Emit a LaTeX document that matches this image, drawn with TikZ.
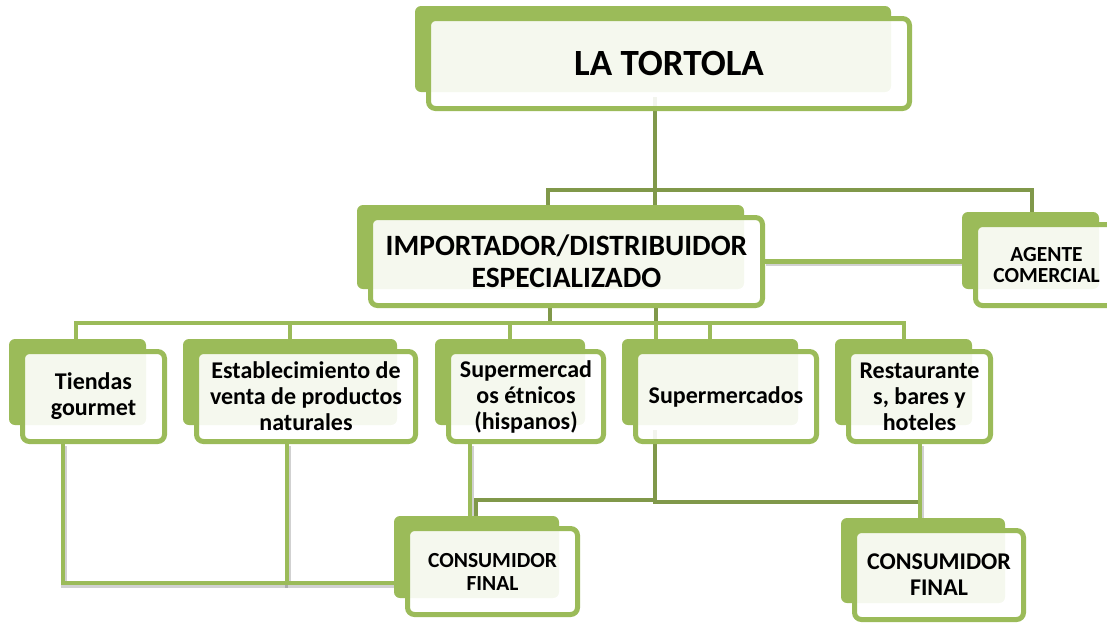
\documentclass[tikz,border=0pt]{standalone}
\usepackage{fontspec}
\setmainfont{Carlito}

\definecolor{olive}{HTML}{9BBB59}
\definecolor{olivedark}{HTML}{80984A}

\pgfdeclarelayer{lines}
\pgfdeclarelayer{back}
\pgfsetlayers{lines,back,main}

\tikzset{
  card/.style={draw=olive, line width=5pt, rounded corners=7pt, fill=white,
    fill opacity=0.9, text opacity=1, inner sep=0pt, align=center},
  cardfont/.style 2 args={font=\bfseries\fontsize{#1}{#2}\selectfont},
  backcard/.style={fill=olive, rounded corners=6pt},
  darkline/.style={draw=olivedark, line width=4.5pt},
  busline/.style={draw=olive, line width=4.5pt},
  lightline/.style={draw=olive, line width=4.5pt,
    preaction={draw=black, draw opacity=0.18, line width=5.5pt,
      transform canvas={shift={(1pt,-2pt)}}}},
}

\begin{document}
\begin{tikzpicture}[x=1pt, y=-1pt]

  %% ════ cards (front) ════
  \node[card, cardfont={37}{44}, minimum width=481, minimum height=90] (tortola) at (669,63.5)
    {LA TORTOLA};
  \node[card, cardfont={29.5}{32}, minimum width=392, minimum height=88] (import) at (566.5,261.5)
    {IMPORTADOR/DISTRIBUIDOR\\ESPECIALIZADO};
  \node[card, cardfont={21.5}{21}, minimum width=142, minimum height=81] (agente) at (1046.5,265)
    {AGENTE\\COMERCIAL};

  \node[card, cardfont={24}{26}, minimum width=142, minimum height=90] (tiendas) at (93.5,396.5)
    {Tiendas\\gourmet};
  \node[card, cardfont={24}{26}, minimum width=219, minimum height=90] (establ) at (306,396.5)
    {Establecimiento de\\venta de productos\\naturales};
  \node[card, cardfont={24}{26}, minimum width=155, minimum height=90] (etnicos) at (526,396.5)
    {Supermercad\\os étnicos\\(hispanos)};
  \node[card, cardfont={24}{26}, minimum width=181, minimum height=90] (super) at (726,396.5)
    {Supermercados};
  \node[card, cardfont={24}{26}, minimum width=142, minimum height=90] (rest) at (919.5,396.5)
    {Restaurante\\s, bares y\\hoteles};

  \node[card, cardfont={21.5}{23}, minimum width=170, minimum height=86] (consl) at (492.5,571.5)
    {CONSUMIDOR\\FINAL};
  \node[card, cardfont={24}{26}, minimum width=169, minimum height=89] (consr) at (939,575)
    {CONSUMIDOR\\FINAL};

  %% ════ cards (back) ════
  \begin{pgfonlayer}{back}
    \foreach \n in {tortola,import,agente,tiendas,establ,etnicos,super,rest,consl,consr}
      \fill[backcard] ([shift={(-11,-10)}]\n.north west) rectangle ([shift={(-21,-19)}]\n.south east);
  \end{pgfonlayer}

  %% ════ connectors ════
  \begin{pgfonlayer}{lines}
    % LA TORTOLA -> importador / agente
    \coordinate (tb) at (655,190);
    \coordinate (tbl) at (548,190);
    \coordinate (tbr) at (1032,190);
    \draw[darkline] ([yshift=14pt]tb |- tortola.south) -- (tb) -- (tb |- import.north);
    \draw[darkline] (tbl |- import.north) -- (tbl) -- (tbr) -- (tbr |- agente.north);

    % importador -> agente
    \draw[lightline] (import.east) -- (import.east -| agente.west);

    % importador -> bottom row
    \coordinate (mb1) at (550,323);
    \coordinate (mb2) at (656,323);
    \coordinate (mbl) at (76,323);
    \coordinate (mbr) at (904,323);
    \draw[darkline] (mb1 |- import.south) -- (mb1);
    \draw[darkline] (mb2 |- import.south) -- (mb2);
    \draw[busline] (mbl |- tiendas.north) -- (mbl) -- (mbr) -- (mbr |- rest.north);
    \foreach \x in {290,510,656,710}
      \draw[busline] (\x,323) -- (\x,323 |- tiendas.north);

    % tiendas / establecimiento -> consumidor final
    \coordinate (ct) at (63,583);
    \coordinate (ce) at (287,583);
    \draw[lightline] (ct |- tiendas.south) -- (ct) -- (ce);
    \draw[lightline] (ce |- establ.south) -- (ce) -- (ce -| consl.west);

    % etnicos -> consumidor final
    \coordinate (cx) at (470,500);
    \draw[lightline] (cx |- etnicos.south) -- (cx |- consl.north);

    % supermercados -> both consumidores
    \coordinate (sm) at (655,500);
    \coordinate (sl) at (476,500);
    \coordinate (rc) at (920,502);
    \draw[darkline] ([yshift=14pt]sm |- super.south) -- (sm) -- (sl) -- (sl |- consl.north);
    \draw[darkline] (sm) |- (rc);

    % restaurantes -> consumidor final
    \draw[lightline] (rc |- rest.south) -- (rc |- consr.north);
  \end{pgfonlayer}

  % fix the canvas to the reference size
  \pgfresetboundingbox
  \path[use as bounding box] (0,0) rectangle (1107,622);
\end{tikzpicture}
\end{document}
